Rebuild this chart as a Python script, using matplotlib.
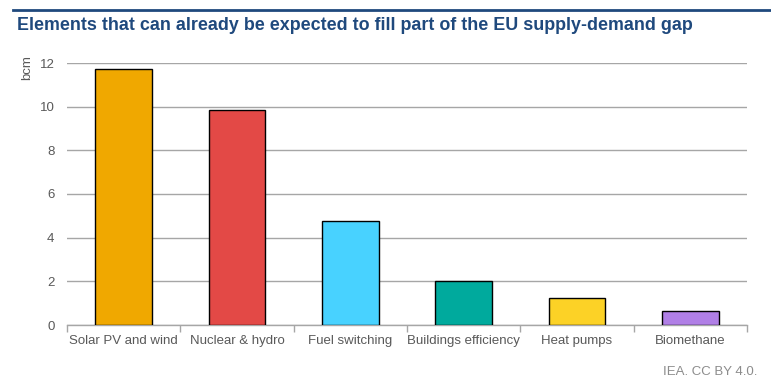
import matplotlib.pyplot as plt
from matplotlib.lines import Line2D

categories = ["Solar PV and wind", "Nuclear & hydro", "Fuel switching",
              "Buildings efficiency", "Heat pumps", "Biomethane"]
values = [11.73, 9.85, 4.76, 2.02, 1.24, 0.64]
colors = ["#f0a800", "#e34946", "#48d2ff", "#00aa9d", "#fcd226", "#b07fe6"]
yticks = [0, 2, 4, 6, 8, 10, 12]

plt.rcParams['font.family'] = ['Liberation Sans', 'DejaVu Sans']
grey = "#595959"

fig = plt.figure(figsize=(7.71, 3.92), dpi=100)
ax = fig.add_axes([67 / 771, 1 - 325 / 392, 680 / 771, 262 / 392])

x = range(len(categories))
ax.bar(x, values, width=0.5, color=colors, edgecolor="black", linewidth=1.0, zorder=3)

ax.set_xlim(-0.5, len(categories) - 0.5)
ax.set_ylim(0, 12)
ax.set_yticks(yticks)
ax.yaxis.grid(True, color="#a6a6a6", linewidth=1.0, zorder=0)
ax.tick_params(axis="y", length=0, labelsize=9.5, labelcolor=grey, pad=9)

ax.set_xticks(x)
ax.set_xticklabels(categories)
ax.set_xticks([i - 0.5 for i in range(len(categories) + 1)], minor=True)
ax.tick_params(axis="x", which="major", length=0, labelsize=9.5, labelcolor=grey, pad=7)
ax.tick_params(axis="x", which="minor", length=5, color="#a6a6a6", width=1.0)

for s in ["top", "right", "left"]:
    ax.spines[s].set_visible(False)
ax.spines["bottom"].set_color("#a6a6a6")
ax.spines["bottom"].set_linewidth(1.0)

fig.text(27 / 771, 1 - 68 / 392, "bcm", rotation=90, fontsize=9.5, color=grey,
         ha="center", va="center")

fig.add_artist(Line2D([13 / 771, 1.0], [1 - 10 / 392, 1 - 10 / 392],
                      color="#1f497d", linewidth=2.0, transform=fig.transFigure))
fig.text(17 / 771, 1 - 26 / 392,
         "Elements that can already be expected to fill part of the EU supply-demand gap",
         fontsize=12.9, fontweight="bold", color="#1f497d", ha="left", va="center")
fig.text(757 / 771, 1 - 372 / 392, "IEA. CC BY 4.0.", fontsize=9.5, color="#8c8c8c",
         ha="right", va="center")

fig.savefig("out.png", dpi=100)
